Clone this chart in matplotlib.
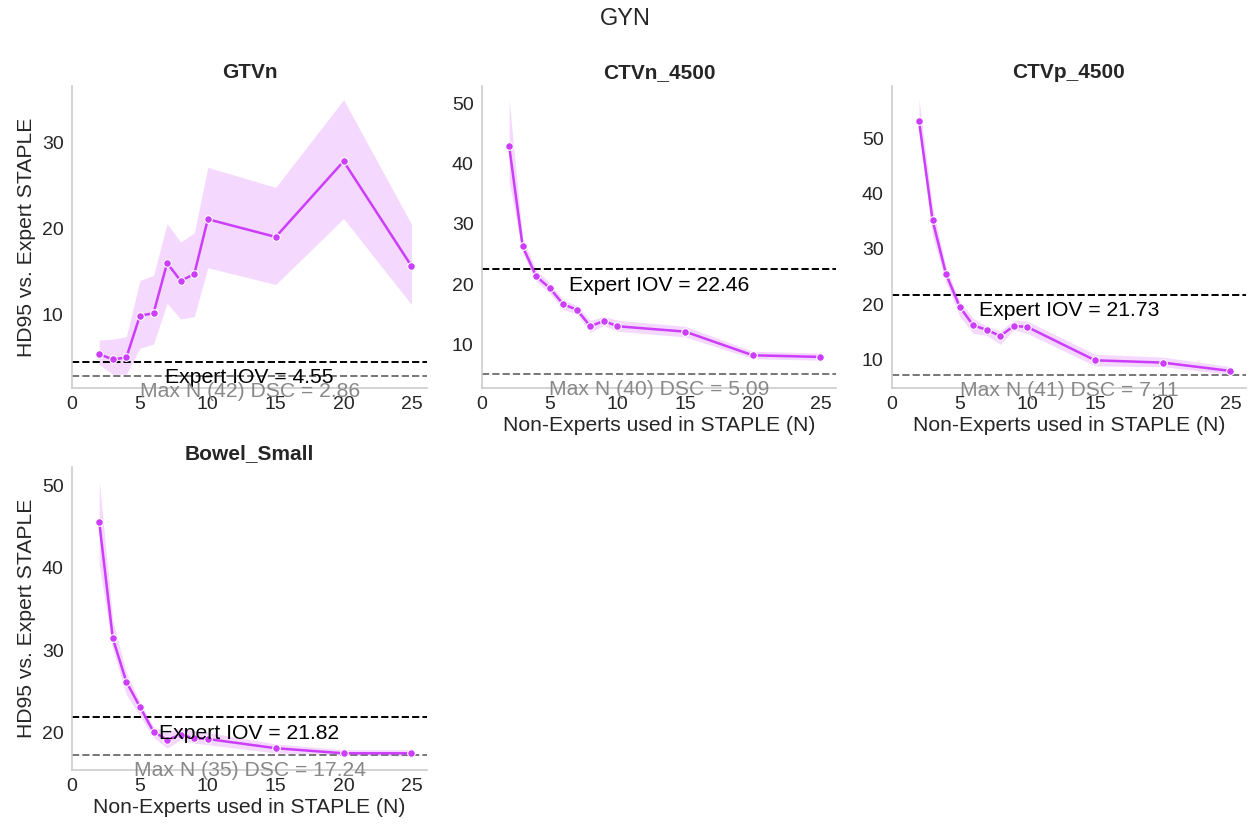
import numpy as np
import matplotlib
matplotlib.use("Agg")
import matplotlib.pyplot as plt
from matplotlib.ticker import MultipleLocator

plt.rcParams['font.family'] = ['Liberation Sans', 'DejaVu Sans']

# number of non-expert contours fed into STAPLE
n_used = [2, 3, 4, 5, 6, 7, 8, 9, 10, 15, 20, 25]

# HD95 means and the bounds of the shaded band, per structure
gtvn_mean = [5.41, 4.79, 5.02, 9.88, 10.16, 15.99, 13.93, 14.71, 21.09, 19.03, 27.82, 15.64]
gtvn_hi = [7.04, 7.16, 7.43, 13.97, 14.55, 20.58, 18.44, 19.49, 27.12, 24.79, 34.98, 20.51]
gtvn_lo = [4.20, 3.07, 3.07, 6.11, 6.58, 11.32, 9.49, 9.77, 15.45, 13.50, 21.17, 11.17]

ctvn_mean = [42.95, 26.28, 21.31, 19.38, 16.68, 15.79, 13.04, 13.92, 13.04, 12.15, 8.23, 7.96]
ctvn_hi = [50.56, 27.66, 22.40, 20.20, 17.45, 16.45, 13.97, 14.70, 14.03, 13.04, 8.90, 8.60]
ctvn_lo = [37.04, 25.18, 20.50, 18.55, 15.80, 15.10, 12.04, 13.20, 12.20, 11.27, 7.68, 7.40]

ctvp_mean = [53.12, 35.15, 25.38, 19.53, 16.15, 15.31, 14.22, 16.03, 15.85, 9.82, 9.40, 7.89]
ctvp_hi = [57.00, 37.70, 26.60, 20.55, 17.40, 16.00, 15.10, 17.06, 16.90, 10.90, 10.40, 8.67]
ctvp_lo = [52.20, 32.30, 23.90, 17.80, 14.70, 14.34, 12.70, 15.30, 14.70, 8.80, 8.67, 7.29]

bowel_mean = [45.62, 31.46, 26.14, 23.11, 20.08, 19.10, 19.70, 19.30, 19.20, 18.08, 17.46, 17.46]
bowel_hi = [50.60, 33.60, 27.30, 23.70, 20.65, 20.10, 20.50, 20.20, 20.00, 18.60, 17.90, 17.90]
bowel_lo = [40.40, 30.15, 24.60, 22.00, 19.40, 18.10, 19.10, 18.70, 18.50, 17.50, 17.26, 17.10]

structures = ['GTVn', 'CTVn_4500', 'CTVp_4500', 'Bowel_Small']
expert_iov = [4.55, 22.46, 21.73, 21.82]
max_n = [42, 40, 41, 35]
max_n_dsc = [2.86, 5.09, 7.11, 17.24]

means = [gtvn_mean, ctvn_mean, ctvp_mean, bowel_mean]
highs = [gtvn_hi, ctvn_hi, ctvp_hi, bowel_hi]
lows = [gtvn_lo, ctvn_lo, ctvp_lo, bowel_lo]

color = '#cc3dfc'

fig = plt.figure(figsize=(12.51, 8.34), dpi=100)
boxes = [
    [0.0576, 0.5348, 0.2838, 0.3621],
    [0.3853, 0.5348, 0.2830, 0.3621],
    [0.7130, 0.5348, 0.2830, 0.3621],
    [0.0576, 0.0767, 0.2838, 0.3633],
]

for i, name in enumerate(structures):
    ax = fig.add_axes(boxes[i])
    ax.fill_between(n_used, lows[i], highs[i], color=color, alpha=0.2, linewidth=0)
    ax.plot(n_used, means[i], color=color, lw=1.8, marker='o', markersize=5.5,
            markeredgecolor='white', markeredgewidth=0.8)

    ax.axhline(expert_iov[i], color='black', ls='--', lw=1.4, zorder=1)
    ax.axhline(max_n_dsc[i], color='#777777', ls='--', lw=1.4, zorder=1)

    ax.annotate('Expert IOV = %.2f' % expert_iov[i], xy=(0.5, expert_iov[i]),
                xycoords=('axes fraction', 'data'), xytext=(0, -5),
                textcoords='offset points', ha='center', va='top',
                fontsize=15.2, color='black', zorder=5)
    ax.annotate('Max N (%d) DSC = %.2f' % (max_n[i], max_n_dsc[i]), xy=(0.5, max_n_dsc[i]),
                xycoords=('axes fraction', 'data'), xytext=(0, -4),
                textcoords='offset points', ha='center', va='top',
                fontsize=15.2, color='#888888', zorder=5, annotation_clip=False)

    ax.set_xlim(0, 26.15)
    ax.xaxis.set_major_locator(MultipleLocator(5))
    ax.yaxis.set_major_locator(MultipleLocator(10))
    ax.set_title(name, fontsize=15, fontweight='bold', color='#262626')

    for side in ['top', 'right']:
        ax.spines[side].set_visible(False)
    for side in ['left', 'bottom']:
        ax.spines[side].set_color('#cccccc')
        ax.spines[side].set_linewidth(1.2)
    ax.tick_params(length=0, labelsize=14, labelcolor='#262626', pad=6)

    if i in (0, 3):
        ax.set_ylabel('HD95 vs. Expert STAPLE', fontsize=15.2, color='#262626')
    if i in (1, 2, 3):
        ax.set_xlabel('Non-Experts used in STAPLE (N)', fontsize=15.2, color='#262626', labelpad=2)

fig.suptitle('GYN', fontsize=17, y=0.99, color='#262626')
fig.savefig('out.png', dpi=100)
